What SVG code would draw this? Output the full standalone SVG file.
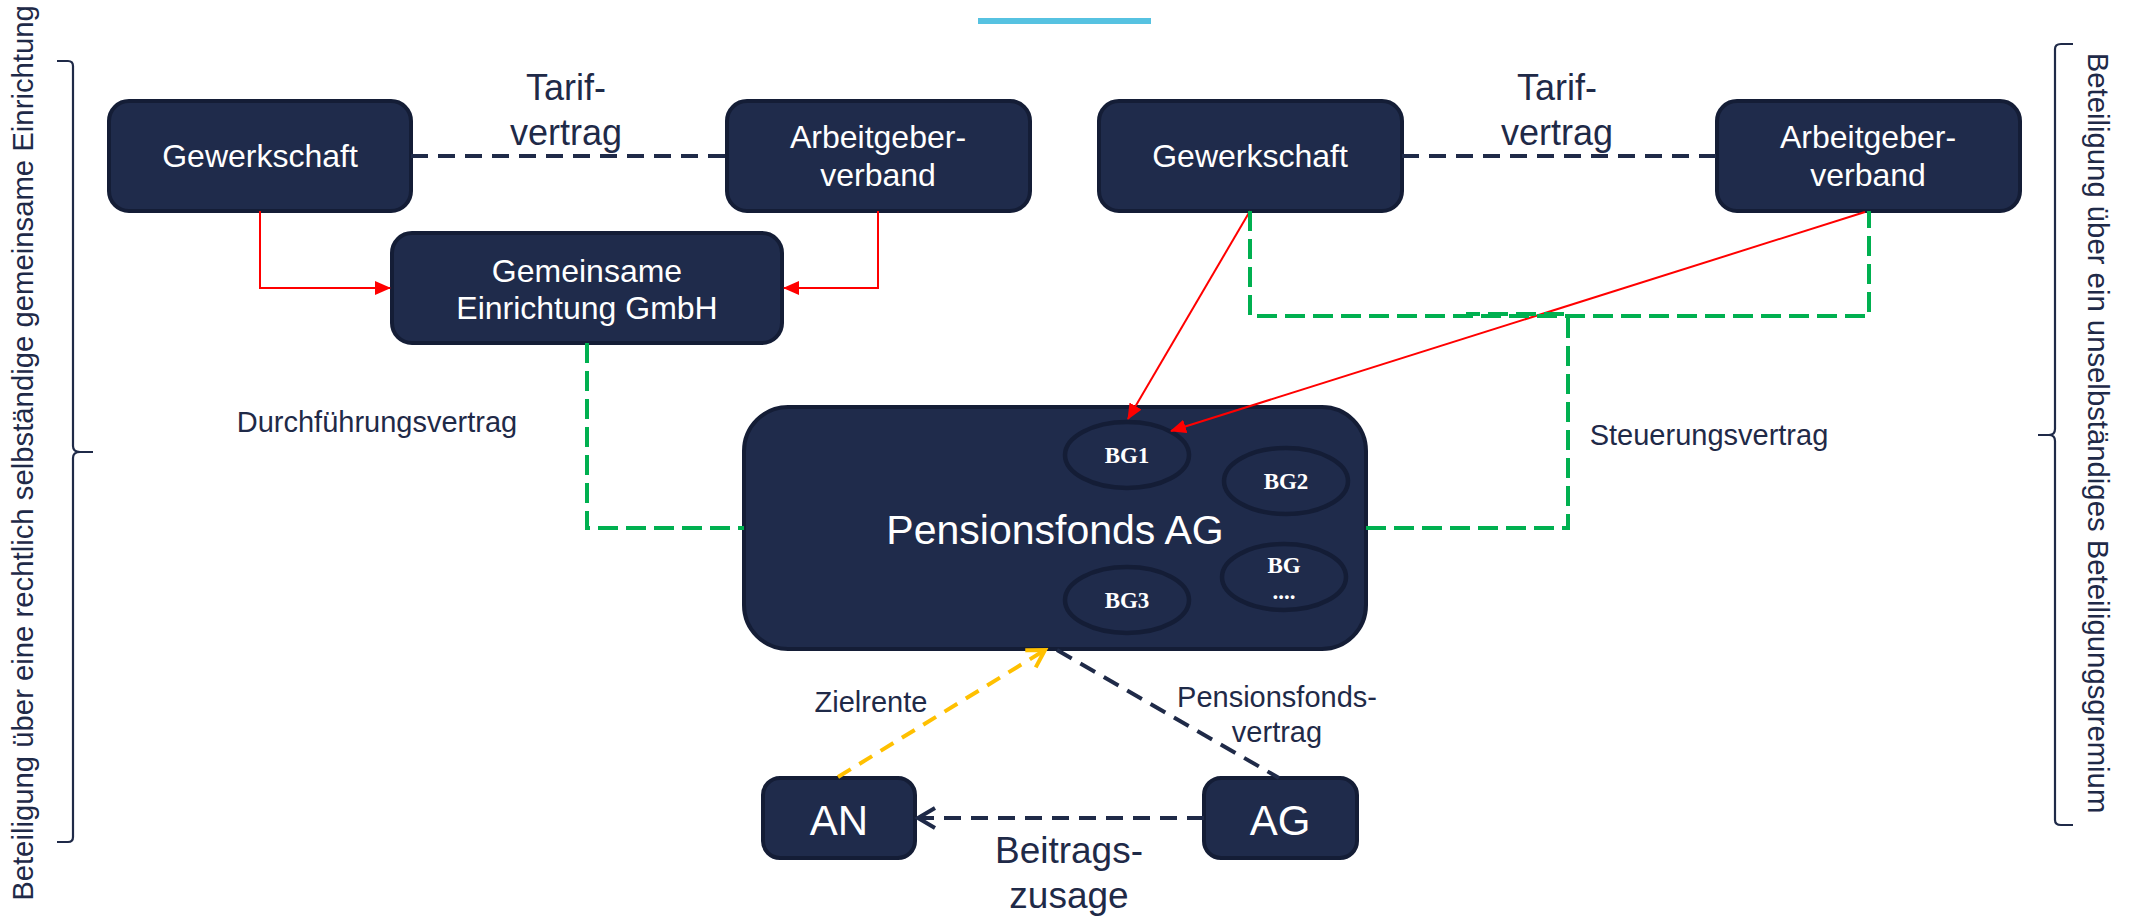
<svg xmlns="http://www.w3.org/2000/svg" width="2136" height="916" viewBox="0 0 2136 916">
<defs>
<style>
.box{fill:#1F2B4B;stroke:#141D36;stroke-width:4}
.ell{fill:#1F2B4B;stroke:#141D36;stroke-width:4.5}
.nt{font-family:"Liberation Sans",Arial,sans-serif;fill:#FFFFFF;text-anchor:middle}
.bg{font-family:"Liberation Serif","Times New Roman",serif;font-weight:bold;fill:#FFFFFF;text-anchor:middle;font-size:23px}
.lb{font-family:"Liberation Sans",Arial,sans-serif;fill:#1F2A48;text-anchor:middle}
.side{font-family:"Liberation Sans",Arial,sans-serif;fill:#1F2A48;text-anchor:middle;font-size:29.3px}
.navy{fill:none;stroke:#1F2A48;stroke-width:4;stroke-dasharray:17 10}
.green{fill:none;stroke:#00B050;stroke-width:4;stroke-dasharray:20 8}
.red{fill:none;stroke:#FF0000;stroke-width:2}
.yellow{fill:none;stroke:#FFC000;stroke-width:4;stroke-dasharray:15 10}
.brace{fill:none;stroke:#1F2A48;stroke-width:2.2}
</style>
<marker id="redHead" viewBox="0 0 16 14" refX="15" refY="7" markerWidth="16" markerHeight="14" markerUnits="userSpaceOnUse" orient="auto">
<path d="M0,0 L16,7 L0,14 z" fill="#FF0000"/>
</marker>
<marker id="openNavy" viewBox="0 0 24 24" refX="20" refY="12" markerWidth="24" markerHeight="24" markerUnits="userSpaceOnUse" orient="auto">
<path d="M3,2 L20,12 L3,22" fill="none" stroke="#1F2A48" stroke-width="4"/>
</marker>
<marker id="openYellow" viewBox="0 0 24 24" refX="20" refY="12" markerWidth="24" markerHeight="24" markerUnits="userSpaceOnUse" orient="auto">
<path d="M3,2 L20,12 L3,22" fill="none" stroke="#FFC000" stroke-width="4"/>
</marker>
</defs>
<rect x="0" y="0" width="2136" height="916" fill="#FFFFFF"/>
<rect x="978" y="18" width="173" height="6" fill="#56C2E1"/>

<g id="side-left">
<path class="brace" d="M57,61 H68 Q73,61 73,66 V446 Q73,452 80,452 H93 M80,452 Q73,452 73,458 V837 Q73,842 68,842 H57"/>
<text class="side" transform="translate(33,453) rotate(-90)">Beteiligung über eine rechtlich selbständige gemeinsame Einrichtung</text>
</g>
<g id="side-right">
<path class="brace" d="M2073,44 H2061 Q2055,44 2055,49 V429 Q2055,435 2049,435 H2038 M2049,435 Q2055,435 2055,441 V820 Q2055,825 2061,825 H2073"/>
<text class="side" transform="translate(2088,433) rotate(90)">Beteiligung über ein unselbständiges Beteiligungsgremium</text>
</g>

<g id="gewerkschaft-left">
<rect class="box" x="109" y="101" width="302" height="110" rx="20"/>
<text class="nt" x="260" y="167" font-size="32">Gewerkschaft</text>
</g>
<g id="arbeitgeberverband-left">
<rect class="box" x="727" y="101" width="303" height="110" rx="20"/>
<text class="nt" x="878" y="148" font-size="32">Arbeitgeber-</text>
<text class="nt" x="878" y="186" font-size="32">verband</text>
</g>
<g id="gemeinsame-einrichtung">
<rect class="box" x="392" y="233" width="390" height="110" rx="20"/>
<text class="nt" x="587" y="282" font-size="32">Gemeinsame</text>
<text class="nt" x="587" y="319" font-size="32">Einrichtung GmbH</text>
</g>
<g id="gewerkschaft-right">
<rect class="box" x="1099" y="101" width="303" height="110" rx="20"/>
<text class="nt" x="1250" y="167" font-size="32">Gewerkschaft</text>
</g>
<g id="arbeitgeberverband-right">
<rect class="box" x="1717" y="101" width="303" height="110" rx="20"/>
<text class="nt" x="1868" y="148" font-size="32">Arbeitgeber-</text>
<text class="nt" x="1868" y="186" font-size="32">verband</text>
</g>
<g id="pensionsfonds">
<rect class="box" x="744" y="407" width="622" height="242" rx="44"/>
<text class="nt" x="1055" y="544" font-size="41">Pensionsfonds AG</text>
<ellipse class="ell" cx="1127" cy="455" rx="62" ry="33"/>
<text class="bg" x="1127" y="463">BG1</text>
<ellipse class="ell" cx="1286" cy="481" rx="62" ry="33"/>
<text class="bg" x="1286" y="489">BG2</text>
<ellipse class="ell" cx="1127" cy="600" rx="62" ry="33"/>
<text class="bg" x="1127" y="608">BG3</text>
<ellipse class="ell" cx="1284" cy="577" rx="62" ry="33"/>
<text class="bg" x="1284" y="573">BG</text>
<text class="bg" x="1284" y="599">....</text>
</g>
<g id="an">
<rect class="box" x="763" y="778" width="152" height="80" rx="17"/>
<text class="nt" x="839" y="835" font-size="42">AN</text>
</g>
<g id="ag">
<rect class="box" x="1204" y="778" width="153" height="80" rx="17"/>
<text class="nt" x="1280" y="835" font-size="42">AG</text>
</g>

<g id="connectors">
<path class="navy" d="M411,156 H727"/>
<path class="navy" d="M1402,156 H1717"/>
<path class="red" d="M260,211 V288 H390" marker-end="url(#redHead)"/>
<path class="red" d="M878,211 V288 H784" marker-end="url(#redHead)"/>
<path class="red" d="M1250,211 L1128,419" marker-end="url(#redHead)"/>
<path class="red" d="M1865,212 L1171,431" marker-end="url(#redHead)"/>
<path class="green" d="M587,343 V528 H744"/>
<path class="green" d="M1250,211 V316 H1869 V211"/>
<path class="green" d="M1366,528 H1568 V314 H1466"/>
<path class="yellow" d="M838,777 L1045,650" marker-end="url(#openYellow)"/>
<path class="navy" d="M1057,650 L1279,778"/>
<path class="navy" d="M1204,818 H918" marker-end="url(#openNavy)"/>
<text class="lb" x="566" y="100" font-size="36">Tarif-</text>
<text class="lb" x="566" y="145" font-size="36">vertrag</text>
<text class="lb" x="1557" y="100" font-size="36">Tarif-</text>
<text class="lb" x="1557" y="145" font-size="36">vertrag</text>
<text class="lb" x="377" y="432" font-size="29">Durchführungsvertrag</text>
<text class="lb" x="1709" y="445" font-size="29">Steuerungsvertrag</text>
<text class="lb" x="871" y="712" font-size="29">Zielrente</text>
<text class="lb" x="1277" y="707" font-size="29">Pensionsfonds-</text>
<text class="lb" x="1277" y="742" font-size="29">vertrag</text>
<text class="lb" x="1069" y="863" font-size="37">Beitrags-</text>
<text class="lb" x="1069" y="908" font-size="37">zusage</text>
</g>
</svg>
